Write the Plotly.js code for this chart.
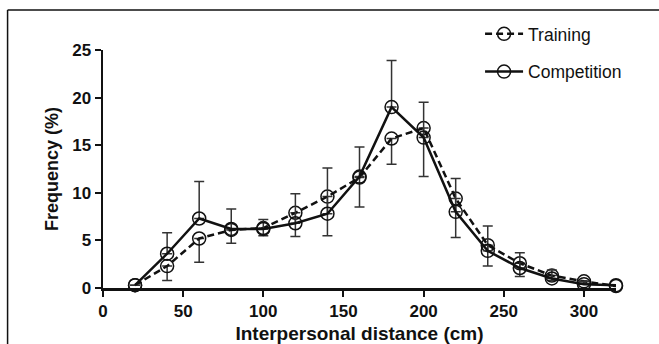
<!DOCTYPE html>
<html>
<head>
<meta charset="utf-8">
<script src="https://cdn.plot.ly/plotly-3.0.1.min.js"></script>
<style>
  html, body { margin: 0; padding: 0; background: #fff; }
  #chart { width: 659px; height: 344px; }
</style>
</head>
<body>
<div id="chart"></div>
<script>
// Interpersonal distance bins (cm)
var distance = [20, 40, 60, 80, 100, 120, 140, 160, 180, 200, 220, 240, 260, 280, 300, 320];
// Frequency (%)
var training    = [0.3, 2.3, 5.2, 6.1, 6.3, 7.9, 9.6, 11.6, 15.7, 16.8, 9.4, 4.5, 2.6, 1.3, 0.7, 0.2];
var competition = [0.3, 3.6, 7.3, 6.2, 6.2, 6.8, 7.8, 11.7, 19.0, 15.8, 8.0, 3.9, 2.1, 1.0, 0.4, 0.3];
// One-sided error bars (training below, competition above)
var trainingErrMinus  = [0, 1.5, 2.5, 1.4, 0.8, 2.5, 4.1, 3.1, 2.7, 5.1, 4.1, 2.2, 1.4, 0.5, 0.2, 0];
var trainingErrPlus   = [0, 0, 0, 0, 0, 0, 0, 0, 0, 0, 0, 0, 0, 0, 0, 0];
var competitionErrPlus  = [0, 2.2, 3.9, 2.1, 1.0, 3.1, 4.8, 3.1, 4.9, 3.7, 3.5, 2.6, 1.6, 0.9, 0.3, 0];
var competitionErrMinus = [0, 0, 0, 0, 0, 0, 0, 0, 0, 0, 0, 0, 0, 0, 0, 0];

var seriesNames = ['Training', 'Competition'];
var xTickVals = [0, 50, 100, 150, 200, 250, 300];
var yTickVals = [0, 5, 10, 15, 20, 25];

var FONT = 'Arial, "Liberation Sans", Helvetica, sans-serif';

var traces = [
  {
    x: distance, y: training, name: seriesNames[0],
    type: 'scatter', mode: 'lines+markers', legendgroup: 'a',
    line: { color: '#111', width: 2.5, dash: '7px,4px' },
    marker: { symbol: 'circle-open', size: 13, color: '#111', line: { width: 1.5, color: '#111' } },
    error_y: { type: 'data', symmetric: false, array: trainingErrPlus, arrayminus: trainingErrMinus,
               color: '#333', thickness: 1.5, width: 5 },
    cliponaxis: false
  },
  {
    x: distance, y: competition, name: seriesNames[1],
    type: 'scatter', mode: 'lines+markers', legendgroup: 'b',
    line: { color: '#111', width: 2.5 },
    marker: { symbol: 'circle-open', size: 13, color: '#111', line: { width: 1.5, color: '#111' } },
    error_y: { type: 'data', symmetric: false, array: competitionErrPlus, arrayminus: competitionErrMinus,
               color: '#333', thickness: 1.5, width: 5 },
    cliponaxis: false
  }
];

var layout = {
  width: 659, height: 344,
  margin: { l: 103, r: 43, t: 50, b: 56, pad: 0 },
  paper_bgcolor: '#fff', plot_bgcolor: '#fff',
  showlegend: true,
  legend: {
    x: 0.735, y: 1.143, xanchor: 'left', yanchor: 'top',
    font: { family: FONT, size: 17.5, color: '#111' },
    itemwidth: 38,
    tracegroupgap: 12, bgcolor: 'rgba(0,0,0,0)'
  },
  xaxis: {
    range: [0, 320], tickvals: xTickVals, ticks: 'outside', ticklen: 6, tickwidth: 2,
    tickcolor: '#111', showline: true, linecolor: '#111', linewidth: 2.5,
    showgrid: false, zeroline: false,
    tickfont: { family: FONT, size: 17, color: '#111', weight: 'bold' },
    title: { text: 'Interpersonal distance (cm)', standoff: 9,
             font: { family: FONT, size: 19, color: '#111', weight: 'bold' } }
  },
  yaxis: {
    range: [0, 25], tickvals: yTickVals, ticks: 'outside', ticklen: 6, tickwidth: 2,
    tickcolor: '#111', showline: true, linecolor: '#111', linewidth: 2.5,
    showgrid: false, zeroline: false,
    tickfont: { family: FONT, size: 17, color: '#111', weight: 'bold' },
    title: { text: 'Frequency (%)', standoff: 9,
             font: { family: FONT, size: 18, color: '#111', weight: 'bold' } }
  },
  shapes: [
    { type: 'line', xref: 'paper', yref: 'paper', x0: -0.186, x1: 1.2, y0: 1.168, y1: 1.168,
      line: { color: '#111', width: 1.5 } },
    { type: 'line', xref: 'paper', yref: 'paper', x0: -0.186, x1: -0.186, y0: 1.168, y1: -0.3,
      line: { color: '#111', width: 1.5 } }
  ]
};

Plotly.newPlot('chart', traces, layout, { displayModeBar: false, staticPlot: true });
</script>
</body>
</html>
